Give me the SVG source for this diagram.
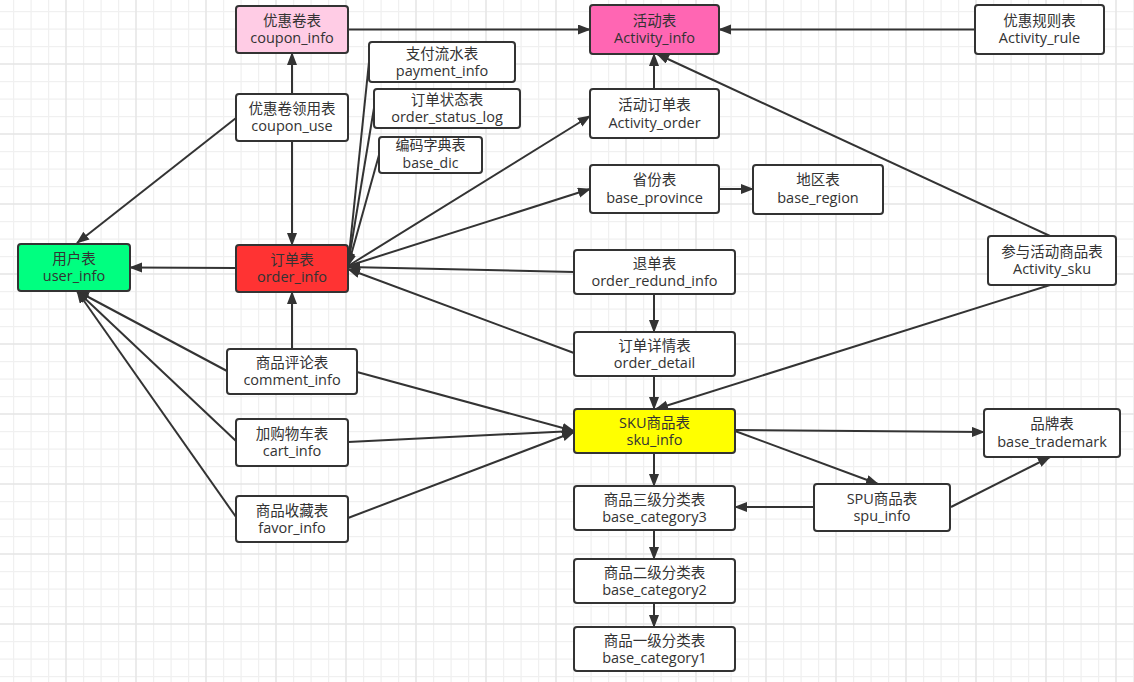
<svg xmlns="http://www.w3.org/2000/svg" width="1134" height="682" viewBox="0 0 1134 682">
<style>
.n rect{stroke:#333;stroke-width:2}
.n text{font-family:"Open Sans","Noto Sans CJK SC",sans-serif;font-size:14.5px;fill:#333;text-anchor:middle}
.w{fill:#fff}
#edges line{stroke:#333;stroke-width:2;fill:none;marker-end:url(#arr)}
</style>
<defs>
<pattern id="grid" patternUnits="userSpaceOnUse" x="-4" y="-6" width="70" height="70">
<rect width="70" height="70" fill="#fff"/>
<rect x="17" y="0" width="1.2" height="70" fill="#f0f0f0"/>
<rect x="34.5" y="0" width="1.2" height="70" fill="#f0f0f0"/>
<rect x="52" y="0" width="1.2" height="70" fill="#f0f0f0"/>
<rect x="0" y="17" width="70" height="1.2" fill="#f0f0f0"/>
<rect x="0" y="34.5" width="70" height="1.2" fill="#f0f0f0"/>
<rect x="0" y="52" width="70" height="1.2" fill="#f0f0f0"/>
<rect x="-0.8" y="0" width="1.6" height="70" fill="#e6e6e6"/>
<rect x="0" y="-0.8" width="70" height="1.6" fill="#e6e6e6"/>
<rect x="69.2" y="0" width="1.6" height="70" fill="#e6e6e6"/>
<rect x="0" y="69.2" width="70" height="1.6" fill="#e6e6e6"/>
</pattern>
<marker id="arr" markerUnits="userSpaceOnUse" markerWidth="14" markerHeight="11" refX="12" refY="5" orient="auto">
<path d="M0,0 L13,5 L0,10 Z" fill="#333"/>
</marker>
</defs>
<rect width="1134" height="682" fill="url(#grid)"/>

<g id="edges">
<line x1="348" y1="29.5" x2="590" y2="29.5"/>
<line x1="975" y1="29.5" x2="719" y2="29.5"/>
<line x1="292" y1="94" x2="292" y2="53"/>
<line x1="236" y1="118" x2="77" y2="243"/>
<line x1="292" y1="141" x2="292" y2="245"/>
<line x1="236" y1="268" x2="130" y2="267.5"/>
<line x1="369" y1="62" x2="348" y2="265"/>
<line x1="374" y1="108" x2="348" y2="265"/>
<line x1="379" y1="155" x2="348" y2="266"/>
<line x1="348" y1="266" x2="590" y2="116"/>
<line x1="348" y1="266" x2="590" y2="189"/>
<line x1="719" y1="189" x2="753" y2="189"/>
<line x1="654" y1="89" x2="654" y2="54"/>
<line x1="1050" y1="236" x2="657" y2="54"/>
<line x1="574" y1="272" x2="348" y2="267"/>
<line x1="574" y1="353" x2="348" y2="269"/>
<line x1="654" y1="294" x2="654" y2="332"/>
<line x1="654" y1="376" x2="654" y2="409"/>
<line x1="1050" y1="285" x2="656" y2="409"/>
<line x1="292" y1="349" x2="292" y2="292"/>
<line x1="227" y1="371" x2="77" y2="291"/>
<line x1="357" y1="372" x2="574" y2="431"/>
<line x1="236" y1="441" x2="77" y2="291"/>
<line x1="348" y1="442" x2="574" y2="431"/>
<line x1="236" y1="517" x2="77" y2="291"/>
<line x1="348" y1="518" x2="574" y2="432"/>
<line x1="735" y1="430" x2="984" y2="432"/>
<line x1="735" y1="431" x2="878" y2="484"/>
<line x1="654" y1="453" x2="654" y2="486"/>
<line x1="814" y1="507" x2="735" y2="507"/>
<line x1="951" y1="507" x2="1050" y2="457"/>
<line x1="654" y1="530" x2="654" y2="559"/>
<line x1="654" y1="603" x2="654" y2="627"/>
</g>

<g id="coupon_info" class="n"><rect x="236" y="6" width="112" height="47" rx="3" fill="#ffcce5"/><text x="292" y="26">优惠卷表</text><text x="292" y="43">coupon_info</text></g>
<g id="coupon_use" class="n"><rect x="236" y="94" width="112" height="47" rx="3" class="w"/><text x="292" y="114">优惠卷领用表</text><text x="292" y="131">coupon_use</text></g>
<g id="user_info" class="n"><rect x="18" y="244" width="112" height="47" rx="3" fill="#00ff80"/><text x="74" y="264">用户表</text><text x="74" y="281">user_info</text></g>
<g id="order_info" class="n"><rect x="236" y="245" width="112" height="47" rx="3" fill="#ff3333"/><text x="292" y="265">订单表</text><text x="292" y="282">order_info</text></g>
<g id="comment_info" class="n"><rect x="227" y="349" width="130" height="45" rx="3" class="w"/><text x="292" y="368">商品评论表</text><text x="292" y="385">comment_info</text></g>
<g id="cart_info" class="n"><rect x="236" y="419" width="112" height="47" rx="3" class="w"/><text x="292" y="439">加购物车表</text><text x="292" y="456">cart_info</text></g>
<g id="favor_info" class="n"><rect x="236" y="496" width="112" height="46" rx="3" class="w"/><text x="292" y="516">商品收藏表</text><text x="292" y="533">favor_info</text></g>
<g id="payment_info" class="n"><rect x="369" y="42" width="146" height="40" rx="3" class="w"/><text x="442" y="59">支付流水表</text><text x="442" y="76">payment_info</text></g>
<g id="order_status_log" class="n"><rect x="374" y="89" width="146" height="39" rx="3" class="w"/><text x="447" y="105">订单状态表</text><text x="447" y="122">order_status_log</text></g>
<g id="base_dic" class="n"><rect x="379" y="137" width="103" height="36" rx="3" class="w"/><text x="430.5" y="150" style="font-size:14px">编码字典表</text><text x="430.5" y="168" style="font-size:14px">base_dic</text></g>
<g id="Activity_info" class="n"><rect x="590" y="5" width="129" height="49" rx="3" fill="#ff66b3"/><text x="654.5" y="26">活动表</text><text x="654.5" y="43">Activity_info</text></g>
<g id="Activity_order" class="n"><rect x="590" y="89" width="129" height="49" rx="3" class="w"/><text x="654.5" y="110">活动订单表</text><text x="654.5" y="128">Activity_order</text></g>
<g id="base_province" class="n"><rect x="590" y="165" width="129" height="48" rx="3" class="w"/><text x="654.5" y="185">省份表</text><text x="654.5" y="203">base_province</text></g>
<g id="Activity_rule" class="n"><rect x="975" y="5" width="129" height="49" rx="3" class="w"/><text x="1039.5" y="26">优惠规则表</text><text x="1039.5" y="43">Activity_rule</text></g>
<g id="base_region" class="n"><rect x="753" y="165" width="130" height="49" rx="3" class="w"/><text x="818" y="185">地区表</text><text x="818" y="203">base_region</text></g>
<g id="order_redund_info" class="n"><rect x="574" y="250" width="161" height="44" rx="3" class="w"/><text x="654.5" y="269">退单表</text><text x="654.5" y="286">order_redund_info</text></g>
<g id="order_detail" class="n"><rect x="574" y="332" width="161" height="44" rx="3" class="w"/><text x="654.5" y="351">订单详情表</text><text x="654.5" y="368">order_detail</text></g>
<g id="sku_info" class="n"><rect x="574" y="409" width="161" height="44" rx="3" fill="#ffff00"/><text x="654.5" y="428">SKU商品表</text><text x="654.5" y="445">sku_info</text></g>
<g id="Activity_sku" class="n"><rect x="988" y="236" width="128" height="49" rx="3" class="w"/><text x="1052" y="257">参与活动商品表</text><text x="1052" y="274">Activity_sku</text></g>
<g id="base_trademark" class="n"><rect x="984" y="409" width="136" height="48" rx="3" class="w"/><text x="1052" y="429">品牌表</text><text x="1052" y="447">base_trademark</text></g>
<g id="spu_info" class="n"><rect x="814" y="484" width="136" height="47" rx="3" class="w"/><text x="882" y="504">SPU商品表</text><text x="882" y="521">spu_info</text></g>
<g id="base_category3" class="n"><rect x="574" y="486" width="161" height="44" rx="3" class="w"/><text x="654.5" y="505">商品三级分类表</text><text x="654.5" y="522">base_category3</text></g>
<g id="base_category2" class="n"><rect x="574" y="559" width="161" height="44" rx="3" class="w"/><text x="654.5" y="578">商品二级分类表</text><text x="654.5" y="595">base_category2</text></g>
<g id="base_category1" class="n"><rect x="574" y="627" width="161" height="44" rx="3" class="w"/><text x="654.5" y="646">商品一级分类表</text><text x="654.5" y="663">base_category1</text></g>
</svg>
